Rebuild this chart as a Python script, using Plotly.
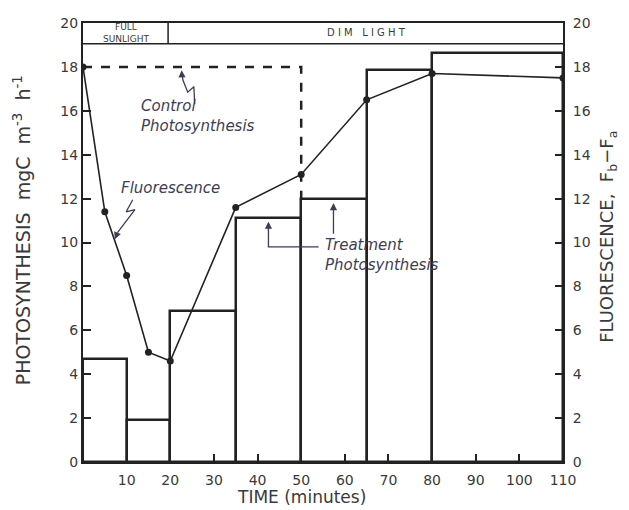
import plotly.graph_objects as go

# treatment photosynthesis (step bars), edges in minutes
bar_edges = [0, 10, 20, 35, 50, 65, 80, 110]
treatment = [4.7, 1.9, 6.9, 11.1, 12.0, 17.85, 18.65]

# control photosynthesis (dashed)
control_t = [0, 50, 50]
control_p = [18.0, 18.0, 12.0]

# fluorescence Fb-Fa (right axis)
fluor_t = [0, 5, 10, 15, 20, 35, 50, 65, 80, 110]
fluor_v = [18.0, 11.4, 8.5, 5.0, 4.6, 11.6, 13.1, 16.5, 17.7, 17.5]

x_ticks = [10, 20, 30, 40, 50, 60, 70, 80, 90, 100, 110]
y_ticks = [0, 2, 4, 6, 8, 10, 12, 14, 16, 18, 20]

INK = "#222222"
TXT = "#3a3a3a"
NOTE = "#3d3d55"
FONT = "DejaVu Sans"

centers = [(a + b) / 2 for a, b in zip(bar_edges[:-1], bar_edges[1:])]
widths = [b - a for a, b in zip(bar_edges[:-1], bar_edges[1:])]

fig = go.Figure()
fig.add_trace(go.Bar(x=centers, y=treatment, width=widths,
                     marker=dict(color="rgba(0,0,0,0)", line=dict(color=INK, width=2.5)),
                     showlegend=False))
fig.add_trace(go.Scatter(x=control_t, y=control_p, mode="lines",
                         line=dict(color=INK, width=2.5, dash="dash"), showlegend=False))
fig.add_trace(go.Scatter(x=fluor_t, y=fluor_v, mode="lines+markers", yaxis="y2",
                         line=dict(color=INK, width=1.6),
                         marker=dict(color=INK, size=7), showlegend=False))

# pointer squiggles
squiggles = [
    ([25.6, 25.4, 24.0, 22.9, 22.7], [16.3, 17.1, 16.85, 17.4, 17.7]),
    ([11.4, 9.9, 11.9, 7.9], [11.95, 11.4, 11.5, 10.45]),
    ([54.0, 42.5, 42.5], [9.8, 9.8, 10.6]),
    ([57.4, 57.4], [10.4, 11.4]),
]
for xs, ys in squiggles:
    fig.add_trace(go.Scatter(x=xs, y=ys, mode="lines", line=dict(color=NOTE, width=1.3),
                             hoverinfo="skip", showlegend=False))

arrows = [(22.6, 17.85, 22.7, 17.5), (7.3, 10.15, 7.9, 10.45),
          (42.5, 10.95, 42.5, 10.5), (57.4, 11.8, 57.4, 11.3)]
annotations = []
for x, y, x0, y0 in arrows:
    annotations.append(dict(x=x, y=y, ax=x0, ay=y0, xref="x", yref="y", axref="x", ayref="y",
                            text="", showarrow=True, arrowhead=2, arrowsize=1.1,
                            arrowwidth=1.3, arrowcolor=NOTE))

notes = [
    ("Control<br>Photosynthesis", 12.8, 15.75),
    ("Fluorescence", 8.2, 12.5),
    ("Treatment<br>Photosynthesis", 55.0, 9.45),
]
for text, x, y in notes:
    annotations.append(dict(x=x, y=y, xref="x", yref="y", text=f"<i>{text}</i>",
                            showarrow=False, xanchor="left", yanchor="middle", align="left",
                            font=dict(family=FONT, size=15, color=NOTE)))

# light band and axis titles
annotations += [
    dict(x=9.75, y=19.55, xref="x", yref="y", text="FULL<br>SUNLIGHT", showarrow=False,
         font=dict(family=FONT, size=9, color=TXT)),
    dict(x=65, y=19.55, xref="x", yref="y", text="D I M   L I G H T", showarrow=False,
         font=dict(family=FONT, size=10, color=TXT)),
    dict(x=0, y=0.528, xref="paper", yref="paper",
         text="PHOTOSYNTHESIS  mgC  m<sup>-3</sup>  h<sup>-1</sup>", showarrow=False,
         textangle=-90, xanchor="center", xshift=-61, font=dict(family=FONT, size=19, color=TXT)),
    dict(x=1.0, y=0.513, xref="paper", yref="paper",
         text="FLUORESCENCE,  F<sub>b</sub>−F<sub>a</sub>", showarrow=False,
         textangle=-90, xanchor="center", xshift=45, font=dict(family=FONT, size=18, color=TXT)),
    dict(x=0.455, y=0, xref="paper", yref="paper", text="TIME (minutes)", showarrow=False,
         yanchor="middle", yshift=-35, font=dict(family=FONT, size=17, color=TXT)),
]

shapes = [
    dict(type="line", xref="x", yref="y", x0=0, x1=110, y0=19.05, y1=19.05,
         line=dict(color=INK, width=1.5)),
    dict(type="line", xref="x", yref="y", x0=19.5, x1=19.5, y0=19.05, y1=20,
         line=dict(color=INK, width=1.5)),
]

axis_font = dict(family=FONT, size=14, color=TXT)
common = dict(ticks="inside", ticklen=8, tickcolor=INK, tickwidth=1.5, showgrid=False,
              zeroline=False, showline=True, linecolor=INK, linewidth=2,
              tickfont=axis_font, automargin=False)
# page body adds ~8px around the figure, so size and margins are trimmed to match
fig.update_layout(
    width=621, height=502,
    margin=dict(l=75, r=66, t=15, b=48),
    paper_bgcolor="white", plot_bgcolor="white",
    bargap=0,
    xaxis=dict(range=[0, 110], tickvals=x_ticks, mirror=True, ticklabelstandoff=4, **common),
    yaxis=dict(range=[0, 20], tickvals=y_ticks, **common),
    yaxis2=dict(range=[0, 20], tickvals=y_ticks, overlaying="y", side="right",
                ticklabelstandoff=5, **common),
    annotations=annotations,
    shapes=shapes,
)

fig.write_html("out.html")
